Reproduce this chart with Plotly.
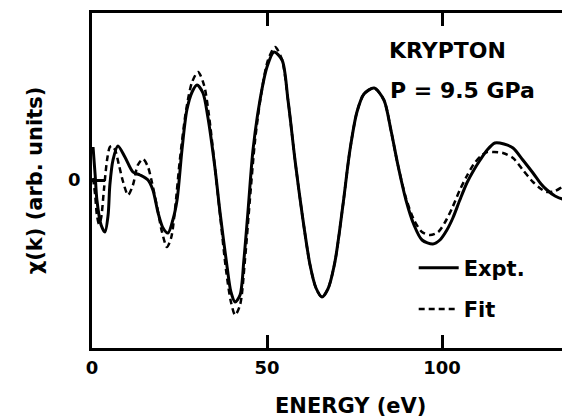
import plotly.graph_objects as go

# ---- data ----
energy_expt = [0.3, 0.9, 1.4, 2.6, 3.7, 4.6, 5.1, 6.0, 7.4, 9.4, 11.7, 13.7, 16.0, 17.4,
               18.9, 20.3, 21.7, 23.1, 24.3, 25.7, 27.1, 28.6, 30.0, 31.7, 33.1, 35.1,
               36.6, 38.6, 39.7, 40.9, 42.3, 43.4, 44.6, 46.0, 48.0, 50.0, 52.0, 54.3,
               56.0, 58.0, 60.0, 62.3, 64.0, 65.7, 67.4, 69.4, 71.7, 73.7, 75.7, 77.7,
               80.6, 83.4, 85.4, 87.4, 89.7, 92.0, 94.3, 97.4, 99.4, 101.4, 103.1, 105.1,
               107.1, 109.1, 110.9, 112.9, 115.1, 117.7, 120.3, 123.1, 126.0, 128.3,
               130.0, 132.3, 134.6, 136.6]
chi_expt = [0.33, 0.05, -0.20, -0.45, -0.52, -0.35, -0.05, 0.20, 0.34, 0.23, 0.08, 0.05,
            0.00, -0.10, -0.33, -0.48, -0.53, -0.40, -0.20, 0.30, 0.70, 0.88, 0.95, 0.87,
            0.63, 0.13, -0.33, -0.87, -1.12, -1.22, -1.15, -0.80, -0.30, 0.30, 0.80, 1.13,
            1.28, 1.20, 0.80, 0.20, -0.33, -0.85, -1.08, -1.17, -1.09, -0.82, -0.25, 0.30,
            0.68, 0.86, 0.92, 0.80, 0.50, 0.15, -0.20, -0.45, -0.60, -0.64, -0.60, -0.50,
            -0.38, -0.20, -0.03, 0.10, 0.20, 0.30, 0.37, 0.36, 0.32, 0.20, 0.07, -0.04,
            -0.10, -0.16, -0.19, -0.17]

energy_fit = [0.3, 0.9, 1.4, 2.0, 2.6, 3.4, 4.3, 5.1, 5.7, 6.6, 7.7, 8.9, 10.3, 11.7,
              13.1, 14.6, 16.0, 17.1, 18.6, 20.0, 21.4, 22.6, 23.7, 25.1, 26.9, 28.6,
              30.3, 32.0, 33.4, 35.1, 36.6, 38.3, 39.7, 40.9, 42.3, 43.7, 45.1, 46.6,
              48.3, 50.3, 52.3, 54.3, 56.0, 58.0, 60.0, 62.3, 64.0, 65.7, 67.4, 69.4,
              71.7, 73.7, 75.7, 77.7, 80.6, 83.4, 85.4, 87.4, 89.7, 92.0, 94.3, 96.6,
              98.9, 100.9, 102.9, 105.1, 107.1, 109.1, 111.1, 112.9, 114.6, 117.4,
              120.3, 123.1, 126.0, 128.3, 130.0, 132.3, 134.3, 136.6]
chi_fit = [0.02, -0.15, -0.35, -0.44, -0.38, -0.10, 0.20, 0.33, 0.34, 0.30, 0.15, -0.02,
           -0.15, -0.05, 0.15, 0.21, 0.13, -0.02, -0.27, -0.52, -0.67, -0.58, -0.30, 0.20,
           0.70, 0.98, 1.08, 0.95, 0.65, 0.13, -0.35, -0.90, -1.22, -1.35, -1.25, -0.80,
           -0.20, 0.40, 0.85, 1.20, 1.33, 1.20, 0.80, 0.20, -0.33, -0.85, -1.08, -1.17,
           -1.09, -0.82, -0.25, 0.30, 0.68, 0.86, 0.92, 0.80, 0.50, 0.15, -0.18, -0.40,
           -0.52, -0.55, -0.52, -0.42, -0.28, -0.10, 0.04, 0.16, 0.24, 0.28, 0.28, 0.27,
           0.22, 0.10, -0.02, -0.09, -0.12, -0.11, -0.07, -0.02]

x_tick_values = [0, 50, 100]
x_tick_labels = ["0", "50", "100"]
y_tick_values = [0]
y_tick_labels = ["0"]

FONT = "DejaVu Sans"

fig = go.Figure()
fig.add_trace(go.Scatter(
    x=energy_expt, y=chi_expt, mode="lines", name="Expt.", legendgroup="expt",
    line=dict(color="black", width=3, shape="spline", smoothing=0.8)))
fig.add_trace(go.Scatter(
    x=energy_fit, y=chi_fit, mode="lines", name="Fit", legendgroup="fit",
    line=dict(color="black", width=2.5, dash="6px,4px", shape="spline", smoothing=0.8)))

# the page body adds an 8 px margin, so the figure is 8 px smaller and offset
fig.update_layout(
    width=562, height=411,
    margin=dict(l=84, r=0, t=5, b=71, autoexpand=False),
    paper_bgcolor="white", plot_bgcolor="white",
    font=dict(family=FONT, color="black"),
    showlegend=True,
    legend=dict(x=0.673, y=0.30, xanchor="left", yanchor="top",
                font=dict(family=FONT, size=21, color="black", weight="bold"),
                bgcolor="rgba(0,0,0,0)", tracegroupgap=11, itemwidth=40),
    annotations=[
        dict(text="KRYPTON", x=0.617, y=0.887, xref="paper", yref="paper",
             xanchor="left", yanchor="middle", showarrow=False,
             font=dict(family=FONT, size=22, color="black", weight="bold")),
        dict(text="P = 9.5 GPa", x=0.620, y=0.770, xref="paper", yref="paper",
             xanchor="left", yanchor="middle", showarrow=False,
             font=dict(family=FONT, size=22, color="black", weight="bold")),
        dict(text="ENERGY (eV)", x=0.54, y=-0.172, xref="paper", yref="paper",
             xanchor="center", yanchor="middle", showarrow=False,
             font=dict(family=FONT, size=21, color="black", weight="bold")),
    ],
)

fig.update_xaxes(
    range=[0, 136.57], tickvals=x_tick_values, ticktext=x_tick_labels,
    ticks="inside", ticklen=13, tickwidth=2.5, tickcolor="black",
    showline=True, linewidth=2.5, linecolor="black", mirror="ticks",
    showgrid=False, zeroline=False, ticklabelstandoff=2,
    tickfont=dict(family=FONT, size=18, color="black", weight="bold"))

fig.update_yaxes(
    range=[-1.68, 1.67], tickvals=y_tick_values, ticktext=y_tick_labels,
    ticks="inside", ticklen=13, tickwidth=2.5, tickcolor="black",
    showline=True, linewidth=2.5, linecolor="black", mirror=False,
    showgrid=False, zeroline=False, ticklabelstandoff=5,
    tickfont=dict(family=FONT, size=18, color="black", weight="bold"),
    title=dict(text="χ(k) (arb. units)", standoff=20,
               font=dict(family=FONT, size=21, color="black", weight="bold")))

fig.write_html("out.html")
